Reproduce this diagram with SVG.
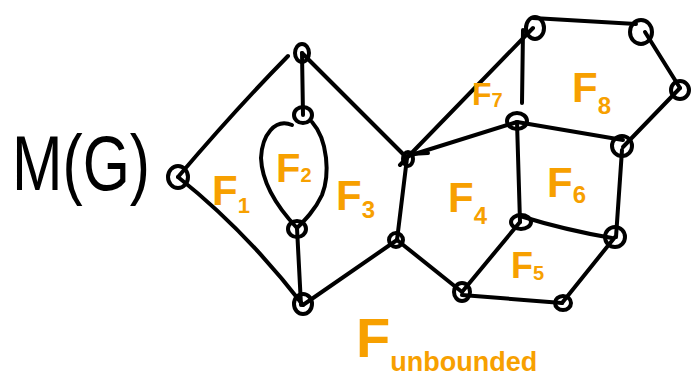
<svg xmlns="http://www.w3.org/2000/svg" width="696" height="380" viewBox="0 0 696 380">
<style>
.e{fill:none;stroke:#000;stroke-width:4;stroke-linecap:round;stroke-linejoin:round}
.n{fill:none;stroke:#000;stroke-width:4}
.f{fill:#F7A000;font-family:"Liberation Sans",sans-serif;font-weight:bold}
</style>
<rect width="696" height="380" fill="#fff"/>
<text x="12" y="190" font-family="Liberation Sans,sans-serif" font-size="78" textLength="138" lengthAdjust="spacingAndGlyphs" fill="#000">M(G)</text>
<g id="connectors">
<path class="e" d="M178,177 Q235,110 288,56"/>
<path class="e" d="M178,177 Q245,230 303,305"/>
<path class="e" d="M302,53 L303,115"/>
<path class="e" d="M302,53 L407,158"/>
<path class="e" d="M292,125 C275,118 262,135 261,158 C262,185 280,210 297,228"/>
<path class="e" d="M312,122 C328,140 330,175 322,195 C315,210 305,220 297,228"/>
<path class="e" d="M297,228 L301,305"/>
<path class="e" d="M303,305 L397,240"/>
<path class="e" d="M407,158 L397,240"/>
<path class="e" d="M400,165 L533,28"/>
<path class="e" d="M405,157 L517,122"/>
<path class="e" d="M410,154 L428,153"/>
<path class="e" d="M523,30 L522,103"/>
<path class="e" d="M533,18 L636,24"/>
<path class="e" d="M645,32 L680,88"/>
<path class="e" d="M680,88 L623,147"/>
<path class="e" d="M517,122 L623,140"/>
<path class="e" d="M517,122 L520,222"/>
<path class="e" d="M520,216 Q565,230 612,238"/>
<path class="e" d="M622,150 L616,237"/>
<path class="e" d="M397,240 L462,292"/>
<path class="e" d="M520,222 L462,292"/>
<path class="e" d="M462,295 L562,303"/>
<path class="e" d="M562,303 L615,237"/>
</g>
<g id="nA"><ellipse class="n" cx="178" cy="177" rx="10" ry="11"/></g>
<g id="nB"><ellipse class="n" cx="302" cy="53" rx="7" ry="9"/></g>
<g id="nC"><ellipse class="n" cx="303" cy="115" rx="9" ry="8"/></g>
<g id="nD"><ellipse class="n" cx="297" cy="229" rx="9" ry="8"/></g>
<g id="nE"><ellipse class="n" cx="303" cy="304" rx="9" ry="10"/></g>
<g id="nG"><ellipse class="n" cx="408" cy="159" rx="5" ry="7"/></g>
<g id="nH"><ellipse class="n" cx="396" cy="240" rx="7" ry="7"/></g>
<g id="nI"><ellipse class="n" cx="535" cy="28" rx="9" ry="11"/></g>
<g id="nK"><ellipse class="n" cx="641" cy="32" rx="11" ry="12"/></g>
<g id="nL"><ellipse class="n" cx="680" cy="90" rx="9" ry="9"/></g>
<g id="nJ"><ellipse class="n" cx="517" cy="121" rx="10" ry="8"/></g>
<g id="nM"><ellipse class="n" cx="622" cy="146" rx="10" ry="10"/></g>
<g id="nN"><ellipse class="n" cx="521" cy="222" rx="10" ry="7"/></g>
<g id="nO"><ellipse class="n" cx="615" cy="237" rx="10" ry="10"/></g>
<g id="nP"><ellipse class="n" cx="462" cy="292" rx="8" ry="9"/></g>
<g id="nQ"><ellipse class="n" cx="563" cy="303" rx="8" ry="7"/></g>
<g id="labels">
<text class="f" x="212" y="205" font-size="42">F<tspan font-size="22" dy="8">1</tspan></text>
<text class="f" x="276" y="182" font-size="40">F<tspan font-size="20" dy="0">2</tspan></text>
<text class="f" x="336" y="210" font-size="42">F<tspan font-size="24" dy="8">3</tspan></text>
<text class="f" x="448" y="212" font-size="42">F<tspan font-size="24" dy="12">4</tspan></text>
<text class="f" x="547" y="197" font-size="42">F<tspan font-size="24" dy="6">6</tspan></text>
<text class="f" x="511" y="278" font-size="36">F<tspan font-size="20" dy="2">5</tspan></text>
<text class="f" x="472" y="105" font-size="32">F<tspan font-size="20" dy="2">7</tspan></text>
<text class="f" x="572" y="102" font-size="42">F<tspan font-size="24" dy="12">8</tspan></text>
<text class="f" x="356" y="357" font-size="56">F<tspan font-size="27" dy="14">unbounded</tspan></text>
</g>
</svg>
